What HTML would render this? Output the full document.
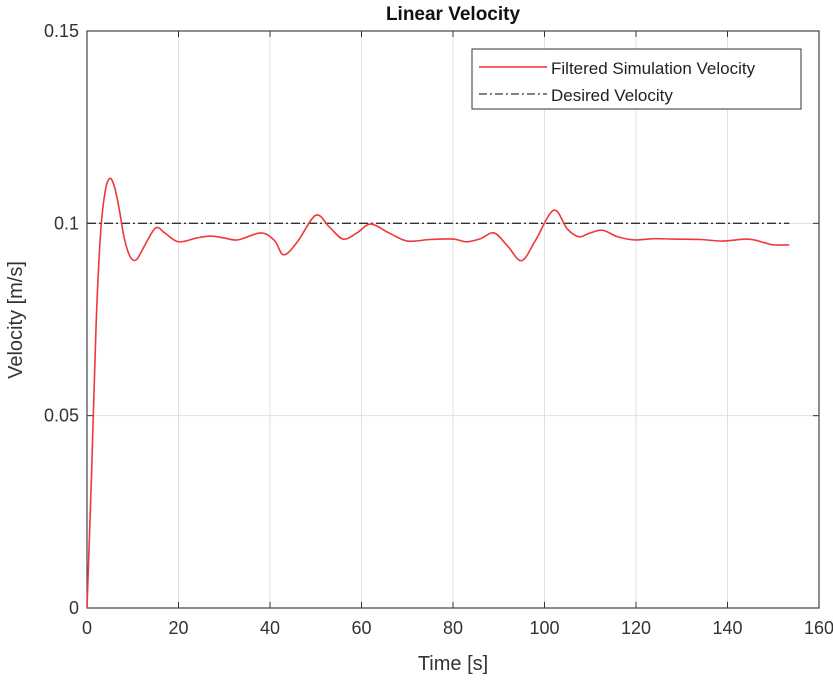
<!DOCTYPE html>
<html><head><meta charset="utf-8"><style>
body{margin:0;background:#fff;font-family:"Liberation Sans",sans-serif}
svg text{font-family:"Liberation Sans",sans-serif}
</style></head><body>
<svg id="chart" width="833" height="680" viewBox="0 0 833 680">
<rect width="833" height="680" fill="#fff"/>
<g id="grid"></g>
<g id="axes"></g>
<g id="series"></g>
<text x="453" y="20" text-anchor="middle" font-size="19" font-weight="bold" fill="#111">Linear Velocity</text>
<text x="453" y="670" text-anchor="middle" font-size="20" fill="#333">Time [s]</text>
<text transform="translate(22,320) rotate(-90)" text-anchor="middle" font-size="20" fill="#333">Velocity [m/s]</text>
<g>
<rect x="472" y="49" width="329" height="60" fill="#fff" stroke="#333" stroke-width="1"/>
<line x1="479" y1="67" x2="547" y2="67" stroke="#f03030" stroke-width="1.5"/>
<text x="551" y="74" font-size="17" fill="#222">Filtered Simulation Velocity</text>
<line x1="479" y1="94" x2="547" y2="94" stroke="#333" stroke-width="1.3" stroke-dasharray="8,3,2,3"/>
<text x="551" y="101" font-size="17" fill="#222">Desired Velocity</text>
</g>
</svg>
<script>
const times=[0,1,2,3,4,5,6,7,8,9,10,11,12.5,15,17,20,24,27,30,33,38,41,43,46,50,53,56,59,62,66,70,75,80,83,86,89,92,95,98,102,105,107.5,110,112.7,116,119.5,124,128,134,139,144.4,148,150,153.5];
const velocity=[0,0.035,0.074,0.098,0.1085,0.1117,0.1095,0.104,0.097,0.0925,0.0905,0.0908,0.094,0.0988,0.0975,0.0952,0.0962,0.0967,0.0962,0.0957,0.0975,0.0955,0.0918,0.0952,0.1021,0.099,0.0959,0.0975,0.0998,0.0975,0.0954,0.0958,0.0959,0.0952,0.096,0.0975,0.094,0.0903,0.0955,0.1034,0.0985,0.0965,0.0975,0.0982,0.0965,0.0957,0.096,0.0959,0.0958,0.0954,0.0959,0.095,0.0944,0.0944];
const desired=[0.1];
const desiredRange=[0,153.5];
const xTicks=[0,20,40,60,80,100,120,140,160];
const yTicks=[0,0.05,0.1,0.15];
const yTickLabels=["0","0.05","0.1","0.15"];
const L=87,R=819,T=31,B=608;
const xs=t=>L+(t-0)/(160-0)*(R-L);
const ys=v=>B-(v-0)/(0.15-0)*(B-T);
const NS="http://www.w3.org/2000/svg";
function mk(tag,attrs,parent){const e=document.createElementNS(NS,tag);for(const k in attrs)e.setAttribute(k,attrs[k]);parent.appendChild(e);return e;}
const grid=document.getElementById('grid'),axes=document.getElementById('axes'),series=document.getElementById('series');
xTicks.forEach((t,i)=>{
 const x=xs(t);
 if(i>0&&i<xTicks.length-1){const g=mk('line',{x1:x,y1:T,x2:x,y2:B,stroke:'#e0e0e0','stroke-width':1},grid);
 
 }
 mk('line',{x1:x,y1:B,x2:x,y2:B-6,stroke:'#333'},axes);
 mk('line',{x1:x,y1:T,x2:x,y2:T+6,stroke:'#333'},axes);
 const tx=mk('text',{x:x,y:B+26,'text-anchor':'middle','font-size':18,fill:'#333'},axes);
 tx.textContent=t;
 
 
});
yTicks.forEach((v,i)=>{
 const y=ys(v);
 if(i>0&&i<yTicks.length-1){const g=mk('line',{x1:L,y1:y,x2:R,y2:y,stroke:'#e0e0e0','stroke-width':1},grid);
 
 }
 mk('line',{x1:L,y1:y,x2:L+6,y2:y,stroke:'#333'},axes);
 mk('line',{x1:R,y1:y,x2:R-6,y2:y,stroke:'#333'},axes);
 const tx=mk('text',{x:L-8,y:y+6,'text-anchor':'end','font-size':18,fill:'#333'},axes);
 tx.textContent=yTickLabels[i];
 
 
});
const box=mk('rect',{x:L,y:T,width:R-L,height:B-T,fill:'none',stroke:'#444','stroke-width':1.2},axes);


const dl=mk('line',{x1:xs(desiredRange[0]),y1:ys(desired[0]),x2:xs(desiredRange[1]),y2:ys(desired[0]),stroke:'#333','stroke-width':1.4,'stroke-dasharray':'9,3,2,3'},series);


const P=times.map((t,i)=>[xs(t),ys(velocity[i])]);
let d='M'+P[0][0]+','+P[0][1];
for(let i=0;i<P.length-1;i++){
 const p0=P[Math.max(0,i-1)],p1=P[i],p2=P[i+1],p3=P[Math.min(P.length-1,i+2)];
 const c1=[p1[0]+(p2[0]-p0[0])/6,p1[1]+(p2[1]-p0[1])/6],c2=[p2[0]-(p3[0]-p1[0])/6,p2[1]-(p3[1]-p1[1])/6];
 d+=` C${c1[0]},${c1[1]} ${c2[0]},${c2[1]} ${p2[0]},${p2[1]}`;
}
const fl=mk('path',{d:d,fill:'none',stroke:'#f03838','stroke-width':1.6},series);


</script>
</body></html>
